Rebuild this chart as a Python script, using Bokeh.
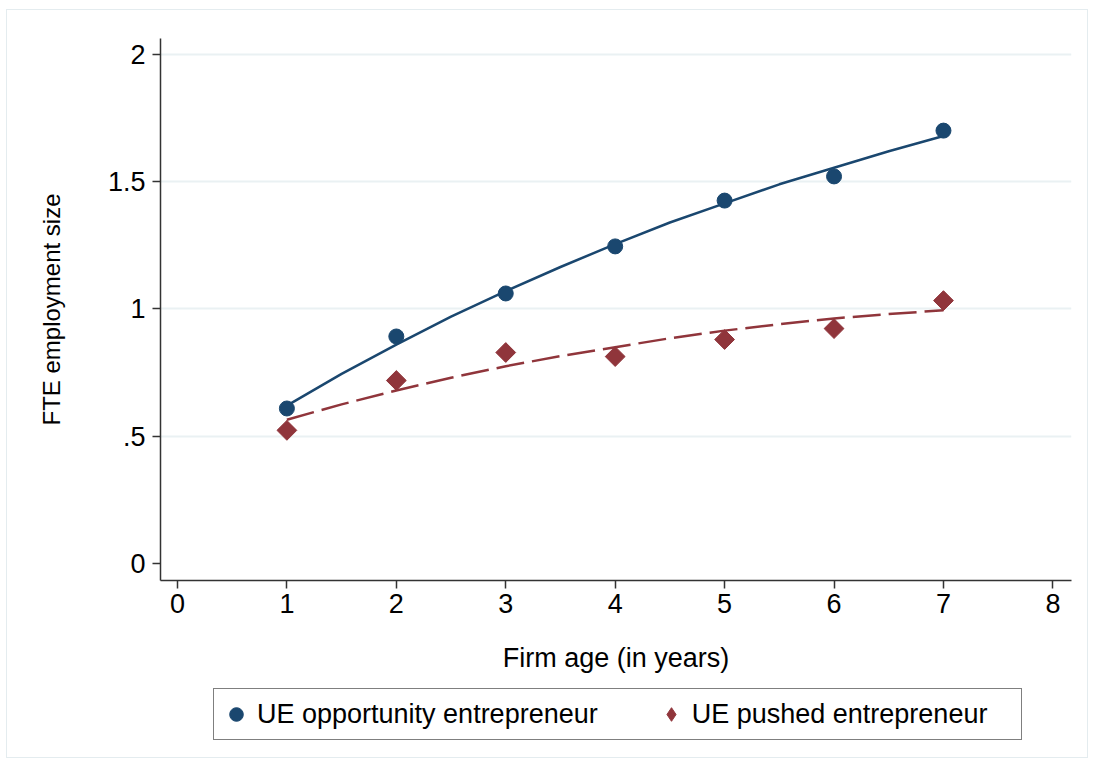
import math
from bokeh.plotting import figure
from bokeh.layouts import column
from bokeh.models import FixedTicker, Legend, LegendItem, Range1d
from bokeh.embed import file_html
from bokeh.resources import INLINE

# ---- data ----
firm_age = [1, 2, 3, 4, 5, 6, 7]
opportunity = [0.609, 0.892, 1.061, 1.246, 1.426, 1.521, 1.701]
pushed = [0.523, 0.719, 0.829, 0.813, 0.880, 0.923, 1.033]

fit_age = [1, 1.5, 2, 2.5, 3, 3.5, 4, 4.5, 5, 5.5, 6, 6.5, 7]
opportunity_fit = [0.620, 0.745, 0.860, 0.970, 1.070, 1.165, 1.255, 1.340, 1.415, 1.490, 1.555, 1.620, 1.680]
pushed_fit = [0.565, 0.625, 0.680, 0.730, 0.775, 0.815, 0.850, 0.885, 0.915, 0.940, 0.963, 0.980, 0.995]

x_ticks = [0, 1, 2, 3, 4, 5, 6, 7, 8]
y_ticks = [0, 0.5, 1, 1.5, 2]
y_tick_labels = ["0", ".5", "1", "1.5", "2"]

series_labels = ["UE opportunity entrepreneur", "UE pushed entrepreneur"]
x_title = "Firm age (in years)"
y_title = "FTE employment size"

BLUE = "#1a476f"
RED = "#90353b"
FONT = "Liberation Sans"
AXIS_COLOR = "#333333"

p = figure(
    width=1080, height=675,
    output_backend="svg", toolbar_location=None,
    x_range=Range1d(-0.155, 8.17), y_range=Range1d(-0.067, 2.063),
    min_border_left=153, min_border_right=16, min_border_top=28, min_border_bottom=105,
)
p.outline_line_color = None
p.background_fill_color = "white"
p.border_fill_color = "white"

# grid
p.xgrid.visible = False
p.ygrid.ticker = FixedTicker(ticks=[t for t in y_ticks if t != 0])
p.ygrid.grid_line_color = "#eaf1f3"
p.ygrid.grid_line_width = 2

# axes
for ax in (p.xaxis[0], p.yaxis[0]):
    ax.axis_line_color = AXIS_COLOR
    ax.axis_line_width = 1.5
    ax.major_tick_line_color = AXIS_COLOR
    ax.major_tick_line_width = 1.5
    ax.major_tick_in = 0
    ax.major_tick_out = 8
    ax.minor_tick_line_color = None
    ax.major_label_text_font = FONT
    ax.major_label_text_font_size = "27px"
    ax.major_label_text_color = "black"
    ax.axis_label_text_font = FONT
    ax.axis_label_text_font_style = "normal"
    ax.axis_label_text_color = "black"

p.xaxis.ticker = FixedTicker(ticks=x_ticks)
p.xaxis.major_label_standoff = 5
p.xaxis.axis_label = x_title
p.xaxis.axis_label_text_font_size = "27px"
p.xaxis.axis_label_standoff = 27

p.yaxis.ticker = FixedTicker(ticks=y_ticks)
p.yaxis.major_label_overrides = {t: s for t, s in zip(y_ticks, y_tick_labels)}
p.yaxis.major_label_orientation = "horizontal"
p.yaxis.major_label_standoff = 7
p.yaxis.axis_label = y_title
p.yaxis.axis_label_text_font_size = "24px"
p.yaxis.axis_label_standoff = 40

# fit lines
p.line(fit_age, opportunity_fit, line_color=BLUE, line_width=2.5)
p.line(fit_age, pushed_fit, line_color=RED, line_width=2.5, line_dash="28 8")

# markers
p.scatter(firm_age, opportunity, marker="circle", size=15,
          fill_color=BLUE, line_color=BLUE)
p.scatter(firm_age, pushed, marker="square", size=14, angle=math.pi / 4,
          fill_color=RED, line_color=RED)

# ---- legend strip below the plot (its ranges keep the series out of view) ----
lg = figure(
    width=1080, height=72, output_backend="svg", toolbar_location=None,
    x_range=Range1d(-20, -19), y_range=Range1d(-20, -19),
    min_border_left=0, min_border_right=0, min_border_top=0, min_border_bottom=0,
)
lg.axis.visible = False
lg.grid.visible = False
lg.outline_line_color = None
lg.background_fill_color = "white"
lg.border_fill_color = "white"
leg_opp = lg.scatter(firm_age, opportunity, marker="circle", size=15,
                     fill_color=BLUE, line_color=BLUE)
leg_push = lg.scatter(firm_age, pushed, marker="diamond", size=18,
                      fill_color=RED, line_color=RED)

legend = Legend(
    items=[LegendItem(label=series_labels[0], renderers=[leg_opp], index=0),
           LegendItem(label=series_labels[1], renderers=[leg_push], index=0)],
    orientation="horizontal", location=(53, 17),
    border_line_color="black", border_line_width=1.2,
    label_text_font=FONT, label_text_font_size="27px", label_text_color="black",
    glyph_width=34, glyph_height=40, label_standoff=4, spacing=56,
    label_width=324, padding=5, margin=0,
)
lg.add_layout(legend, "center")

layout = column(p, lg, spacing=0)
layout.styles = {"margin-left": "6px", "margin-top": "9px", "border": "1px solid #e4ecef"}

open("out.html", "w").write(file_html(layout, INLINE))
